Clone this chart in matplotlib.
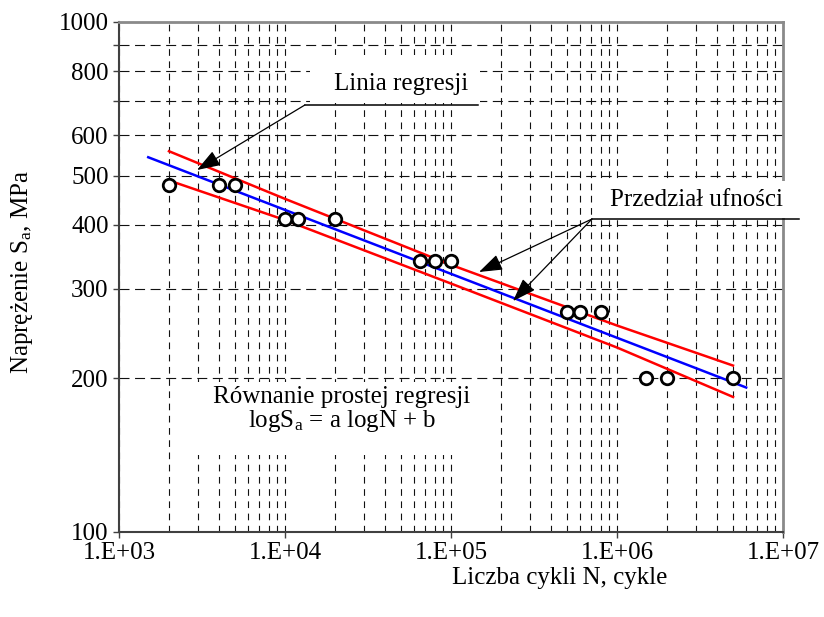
import numpy as np
import matplotlib
matplotlib.use("Agg")
import matplotlib.pyplot as plt
from matplotlib.ticker import FixedLocator, FixedFormatter, LogLocator, NullFormatter
from matplotlib.patches import Rectangle

plt.rcParams["font.family"] = ["Liberation Serif", "DejaVu Serif"]
plt.rcParams["mathtext.fontset"] = "custom"
plt.rcParams["mathtext.rm"] = "Liberation Serif"
plt.rcParams["mathtext.it"] = "Liberation Serif:italic"
plt.rcParams["font.size"] = 18

# measured points (N cycles, stress amplitude MPa)
N_pts = [2e3, 4e3, 5e3, 1e4, 1.2e4, 2e4, 6.5e4, 8e4, 1e5, 5e5, 6e5, 8e5, 1.5e6, 2e6, 5e6]
S_pts = [480, 480, 480, 410, 410, 410, 340, 340, 340, 270, 270, 270, 200, 200, 200]

# regression line
reg_N = [1.5e3, 6e6]
reg_S = [543, 192]

# confidence band
band_N = [2e3, 1e4, 1e5, 1e6, 5e6]
band_upper = [558, 450, 334, 254, 212]
band_lower = [489, 409, 307, 230, 184]

y_ticks = [100, 200, 300, 400, 500, 600, 700, 800, 900, 1000]
y_labels = ["100", "200", "300", "400", "500", "600", "", "800", "", "1000"]
x_ticks = [1e3, 1e4, 1e5, 1e6, 1e7]
x_labels = ["1.E+03", "1.E+04", "1.E+05", "1.E+06", "1.E+07"]

fig = plt.figure(figsize=(8.24, 6.17), dpi=100)
ax = fig.add_axes([119 / 824, 1 - 532 / 617, 664 / 824, 510 / 617])

ax.set_xscale("log")
ax.set_yscale("log")
ax.set_xlim(1e3, 1e7)
ax.set_ylim(100, 1000)

ax.plot(band_N, band_upper, color="#ff0000", lw=1.8, zorder=2)
ax.plot(band_N, band_lower, color="#ff0000", lw=1.8, zorder=2)
ax.plot(reg_N, reg_S, color="#0000ff", lw=1.8, zorder=2)
ax.plot(N_pts, S_pts, "o", ms=9, mfc="white", mec="black", mew=2, zorder=5)

# ticks
ax.yaxis.set_major_locator(FixedLocator(y_ticks))
ax.yaxis.set_major_formatter(FixedFormatter(y_labels))
ax.yaxis.set_minor_locator(FixedLocator([]))
ax.xaxis.set_major_locator(FixedLocator(x_ticks))
ax.xaxis.set_major_formatter(FixedFormatter(x_labels))
ax.xaxis.set_minor_locator(LogLocator(base=10, subs=np.arange(2, 10)))
ax.xaxis.set_minor_formatter(NullFormatter())
ax.tick_params(axis="both", which="major", direction="out", length=4.5, width=1,
               color="#404040", labelsize=18)
ax.tick_params(axis="y", which="major", pad=3)
ax.tick_params(axis="x", which="major", pad=3)
ax.tick_params(axis="x", which="minor", length=0)

# grid
ax.set_axisbelow(True)
ax.grid(True, axis="y", which="major", color="#111111", lw=0.8, ls=(0, (9, 5)))
ax.grid(True, axis="x", which="both", color="#111111", lw=0.8, ls=(0, (6, 5)))

for s in ["left", "bottom"]:
    ax.spines[s].set_color("#404040")
    ax.spines[s].set_linewidth(1.5)
for s in ["top", "right"]:
    ax.spines[s].set_color("#8a8a8a")
    ax.spines[s].set_linewidth(2)

# white boxes behind the labels
for (x0, y0, w, h) in [(0.288, 0.841, 0.256, 0.094),
                       (0.724, 0.616, 0.302, 0.072),
                       (0.097, 0.151, 0.438, 0.143)]:
    ax.add_patch(Rectangle((x0, y0), w, h, transform=ax.transAxes, facecolor="white",
                           edgecolor="none", zorder=3, clip_on=False))

arrow = dict(arrowstyle="-|>,head_length=0.8,head_width=0.28", color="black", lw=0.9,
             shrinkA=0, shrinkB=0)

# Linia regresji callout
ax.text(0.425, 0.878, "Linia regresji", transform=ax.transAxes, ha="center", va="center",
        zorder=4)
ax.plot([0.280, 0.541], [0.8373, 0.8373], transform=ax.transAxes, color="black", lw=1.1,
        clip_on=False, zorder=4)
ax.annotate("", xy=(0.1175, 0.7098), xytext=(0.280, 0.8373), xycoords="axes fraction",
            textcoords="axes fraction", arrowprops=arrow, zorder=4)

# Przedzial ufnosci callout
ax.text(0.870, 0.651, "Przedział ufności", transform=ax.transAxes, ha="center", va="center",
        zorder=4)
ax.plot([0.7123, 1.0241], [0.6137, 0.6137], transform=ax.transAxes, color="black", lw=1.1,
        clip_on=False, zorder=4)
ax.annotate("", xy=(0.5422, 0.5098), xytext=(0.7123, 0.6137), xycoords="axes fraction",
            textcoords="axes fraction", arrowprops=arrow, zorder=4)
ax.annotate("", xy=(0.5934, 0.4529), xytext=(0.7123, 0.6137), xycoords="axes fraction",
            textcoords="axes fraction", arrowprops=arrow, zorder=4)

# regression equation
ax.text(0.336, 0.2647, "Równanie prostej regresji", transform=ax.transAxes, ha="center",
        va="center", zorder=4)
ax.text(0.336, 0.2176, r"logS$_\mathrm{a}$ = a logN + b", transform=ax.transAxes,
        ha="center", va="center", zorder=4)

fig.text(560 / 824, 1 - 578 / 617, "Liczba cykli N, cykle", ha="center", va="center",
         fontsize=18)
fig.text(22 / 824, 1 - 272 / 617, r"Naprężenie S$_\mathrm{a}$, MPa", rotation=90,
         ha="center", va="center", fontsize=18)

fig.savefig("out.png", dpi=100, facecolor="white")
